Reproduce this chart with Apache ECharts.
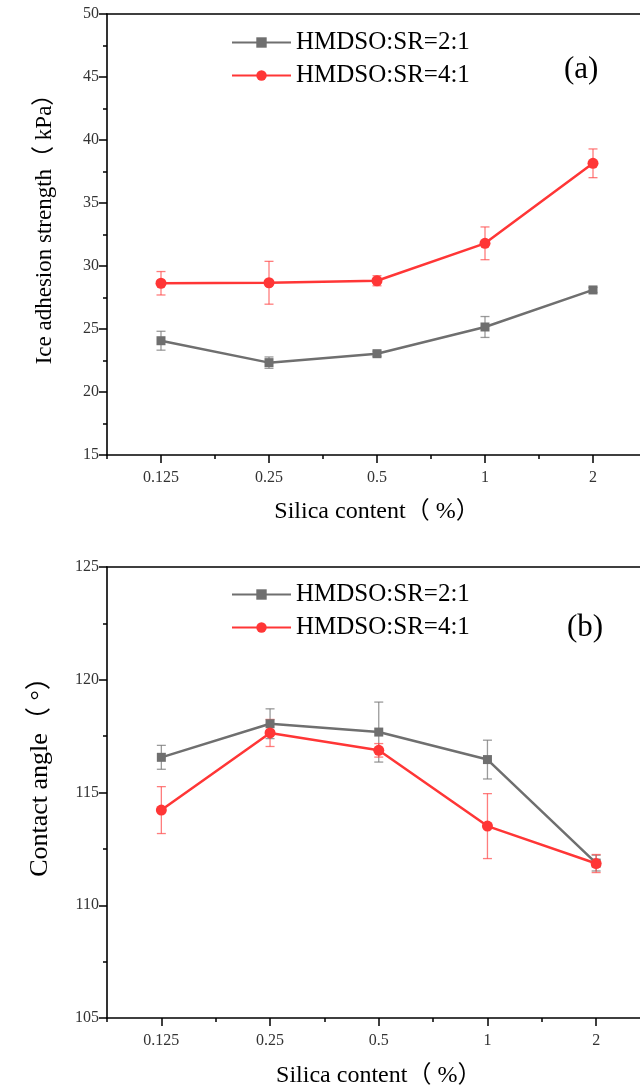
<!DOCTYPE html>
<html>
<head>
<meta charset="utf-8">
<script src="https://cdn.jsdelivr.net/npm/echarts@6/dist/echarts.min.js"></script>
<style>html,body{margin:0;padding:0;background:#fff;}#c{width:640px;height:1091px;}</style>
</head>
<body>
<div id="c"></div>
<script>
const categories = ['0.125', '0.25', '0.5', '1', '2'];
const seriesNames = ['HMDSO:SR=2:1', 'HMDSO:SR=4:1'];
const iceRatio21 = [24.07, 22.33, 23.04, 25.16, 28.10];
const iceRatio21Err = [0.75, 0.45, 0.20, 0.83, 0.20];
const iceRatio41 = [28.63, 28.67, 28.83, 31.80, 38.15];
const iceRatio41Err = [0.93, 1.70, 0.40, 1.30, 1.14];
const caRatio21 = [116.56, 118.05, 117.68, 116.46, 111.87];
const caRatio21Err = [0.53, 0.66, 1.33, 0.86, 0.35];
const caRatio41 = [114.22, 117.64, 116.87, 113.51, 111.85];
const caRatio41Err = [1.04, 0.60, 0.30, 1.44, 0.40];
const iceTicks = {min: 15, max: 50, interval: 5};
const caTicks = {min: 105, max: 125, interval: 5};

const FONT = "'Liberation Serif', 'Times New Roman', 'Noto Sans CJK SC', serif";
const GREY = '#6f6f6f';
const RED = '#ff3636';
const GREY_ERR = 'rgba(120,120,120,0.75)';
const RED_ERR = 'rgba(255,70,70,0.7)';

function errData(vals, errs) {
  return vals.map((v, i) => [i, v, v - errs[i], v + errs[i]]);
}
function errSeries(gi, vals, errs, color) {
  return {
    type: 'custom', xAxisIndex: gi * 3, yAxisIndex: gi, z: 1,
    data: errData(vals, errs), encode: {x: 0, y: 1},
    renderItem: function (params, api) {
      const x = api.value(0);
      const pHi = api.coord([x, api.value(3)]);
      const pLo = api.coord([x, api.value(2)]);
      const w = 4.5;
      const st = {stroke: color, lineWidth: 1.3};
      return {type: 'group', children: [
        {type: 'line', shape: {x1: pHi[0], y1: pHi[1], x2: pLo[0], y2: pLo[1]}, style: st},
        {type: 'line', shape: {x1: pHi[0] - w, y1: pHi[1], x2: pHi[0] + w, y2: pHi[1]}, style: st},
        {type: 'line', shape: {x1: pLo[0] - w, y1: pLo[1], x2: pLo[0] + w, y2: pLo[1]}, style: st}
      ]};
    }
  };
}
function lineSeries(gi, name, vals, color, symbol, size) {
  return {
    type: 'line', name: name, xAxisIndex: gi * 3, yAxisIndex: gi, z: 3,
    data: vals, symbol: symbol, symbolSize: size,
    lineStyle: {color: color, width: 2.5}, itemStyle: {color: color},
    emphasis: {disabled: true}
  };
}
function xAxes(gi, title, nameGap) {
  const base = {type: 'category', gridIndex: gi, data: categories, boundaryGap: true};
  return [
    Object.assign({}, base, {
      position: 'bottom',
      axisLine: {show: true, lineStyle: {color: '#000', width: 1.6}},
      axisTick: {show: true, alignWithLabel: true, length: 8, lineStyle: {color: '#000', width: 1.5}},
      axisLabel: {fontFamily: FONT, fontSize: 16, color: '#333', margin: 15},
      splitLine: {show: false},
      name: title, nameLocation: 'middle', nameGap: nameGap,
      nameTextStyle: {fontFamily: FONT, fontSize: 24, color: '#000'}
    }),
    Object.assign({}, base, {
      position: 'bottom',
      axisLine: {show: false},
      axisTick: {show: true, alignWithLabel: false, length: 4, lineStyle: {color: '#000', width: 1.5}},
      axisLabel: {show: false}, splitLine: {show: false}
    }),
    Object.assign({}, base, {
      position: 'top',
      axisLine: {show: true, lineStyle: {color: '#000', width: 1.6}},
      axisTick: {show: false}, axisLabel: {show: false}, splitLine: {show: false}
    })
  ];
}
function yAxis(gi, ticks, title, nameGap, fontSize, pad) {
  return {
    type: 'value', gridIndex: gi, min: ticks.min, max: ticks.max, interval: ticks.interval,
    axisLine: {show: true, lineStyle: {color: '#000', width: 1.6}},
    axisTick: {show: true, length: 8, lineStyle: {color: '#000', width: 1.5}},
    minorTick: {show: true, splitNumber: 2, length: 4, lineStyle: {color: '#000', width: 1.5}},
    axisLabel: {fontFamily: FONT, fontSize: 16, color: '#333', margin: 8},
    splitLine: {show: false},
    name: title, nameLocation: 'middle', nameGap: nameGap, nameRotate: 90,
    nameTextStyle: {fontFamily: FONT, fontSize: fontSize, color: '#000', padding: pad}
  };
}
function legend(gi, top) {
  return {
    orient: 'vertical', left: 226, top: top, itemWidth: 59, itemHeight: 13, itemGap: 8,
    data: seriesNames, selectedMode: false,
    textStyle: {fontFamily: FONT, fontSize: 25, color: '#000', lineHeight: 25, padding: [0, 0, 0, 0]}
  };
}

const chart = echarts.init(document.getElementById('c'), null, {renderer: 'canvas'});
chart.setOption({
  animation: false,
  backgroundColor: '#fff',
  title: [
    {text: '(a)', left: 564, top: 54, padding: 0, textStyle: {fontFamily: FONT, fontSize: 31, fontWeight: 'normal', color: '#000'}},
    {text: '(b)', left: 567, top: 612, padding: 0, textStyle: {fontFamily: FONT, fontSize: 31, fontWeight: 'normal', color: '#000'}}
  ],
  legend: [legend(0, 25), legend(1, 577)],
  grid: [
    {left: 107, top: 14, width: 540, height: 441, outerBoundsMode: 'none'},
    {left: 107, top: 567, width: 543.5, height: 451, outerBoundsMode: 'none'}
  ],
  xAxis: [].concat(xAxes(0, 'Silica content（ %）', 45), xAxes(1, 'Silica content（ %）', 46)),
  yAxis: [
    yAxis(0, iceTicks, 'Ice adhesion strength（ kPa）', 51, 23, [0, 0, 0, 22]),
    yAxis(1, caTicks, 'Contact angle（ °）', 54, 26, [0, 0, 0, 44])
  ],
  series: [
    errSeries(0, iceRatio21, iceRatio21Err, GREY_ERR),
    errSeries(0, iceRatio41, iceRatio41Err, RED_ERR),
    lineSeries(0, seriesNames[0], iceRatio21, GREY, 'rect', 9),
    lineSeries(0, seriesNames[1], iceRatio41, RED, 'circle', 11),
    errSeries(1, caRatio21, caRatio21Err, GREY_ERR),
    errSeries(1, caRatio41, caRatio41Err, RED_ERR),
    lineSeries(1, seriesNames[0], caRatio21, GREY, 'rect', 9),
    lineSeries(1, seriesNames[1], caRatio41, RED, 'circle', 11)
  ]
});
</script>
</body>
</html>
